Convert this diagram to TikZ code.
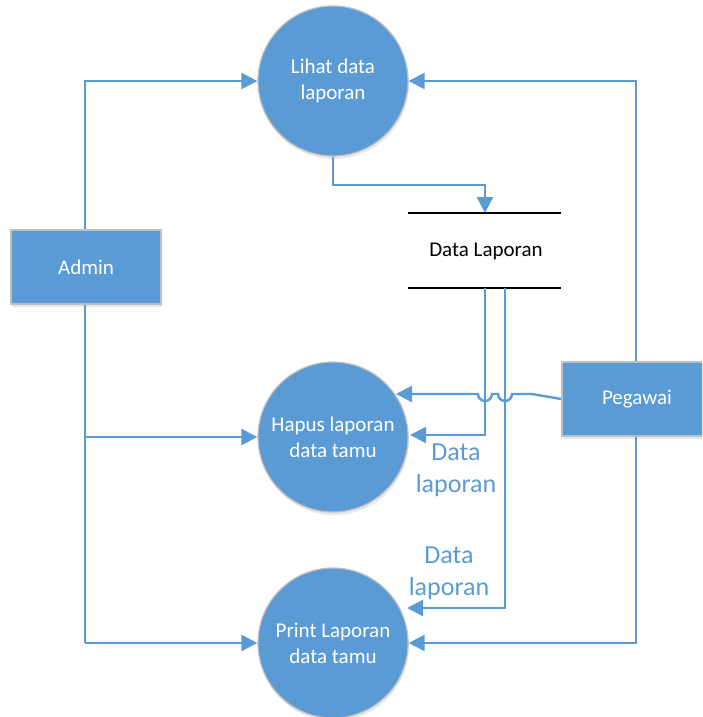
\documentclass[tikz,border=0pt]{standalone}
\usepackage{fontspec}
\setmainfont{Carlito}
\usetikzlibrary{arrows.meta,shadows}
\definecolor{dfdblue}{HTML}{5B9BD5}
\definecolor{dfdborder}{HTML}{BFBFBF}
\tikzset{
  proc/.style={circle,fill=dfdblue,draw=dfdborder,line width=1.2pt,minimum size=150pt,inner sep=0pt,
    text=white,font=\fontsize{21pt}{26pt}\selectfont,align=center,
    drop shadow={opacity=0.18,shadow xshift=1pt,shadow yshift=-3pt}},
  ent/.style={rectangle,fill=dfdblue,draw=dfdborder,line width=1.2pt,minimum width=150pt,minimum height=74pt,inner sep=0pt,
    text=white,font=\fontsize{21pt}{24pt}\selectfont,
    drop shadow={opacity=0.18,shadow xshift=1pt,shadow yshift=-3pt}},
  flow/.style={draw=dfdblue,line width=2.4pt,-{Triangle[length=16pt,width=16pt]}},
  plainflow/.style={draw=dfdblue,line width=2.4pt},
  storeline/.style={draw=black,line width=2pt},
  lbl/.style={text=dfdblue,font=\fontsize{26pt}{32pt}\selectfont,align=center},
}
\begin{document}
\begin{tikzpicture}[x=1pt,y=-1pt]
\useasboundingbox (0,0) rectangle (702,717);
\begin{scope}
\clip (0,0) rectangle (702,717);
% nodes
\node[proc] (lihat) at (333,81) {Lihat data\\laporan};
\node[proc] (hapus) at (333,437) {Hapus laporan\\data tamu};
\node[proc] (print) at (333,643) {Print Laporan\\data tamu};
\node[ent] (admin) at (86,267) {Admin};
\node[ent] (pegawai) at (637,399) {Pegawai};
% data store
\coordinate (stTL) at (408,213);
\coordinate (stTR) at (561,213);
\coordinate (stBL) at (408,288);
\coordinate (stBR) at (561,288);
\draw[storeline] (stTL) -- (stTR);
\draw[storeline] (stBL) -- (stBR);
\node[font=\fontsize{21pt}{24pt}\selectfont] (store) at (486,251) {Data Laporan};
% admin flows
\coordinate (aTop) at (85,81);
\coordinate (aMid) at (85,437);
\coordinate (aBot) at (85,643);
\draw[flow] (admin.north -| aTop) -- (aTop) -- (lihat.west);
\draw[plainflow] (admin.south -| aTop) -- (aBot);
\draw[flow] (aMid) -- (hapus.west);
\draw[flow] (aBot) -- (print.west);
% pegawai flows
\coordinate (pTop) at (636,81);
\coordinate (pBot) at (636,643);
\draw[flow] (pegawai.north -| pTop) -- (pTop) -- (lihat.east);
\draw[flow] (pegawai.south -| pBot) -- (pBot) -- (print.east);
% lihat to store
\coordinate (l1) at (333,185);
\coordinate (l2) at (485,185);
\draw[flow] (lihat.south) -- (l1) -- (l2) -- (485,213);
% store to hapus
\coordinate (s1) at (485,435);
\draw[flow] (485,288) -- (s1) -- (410,435);
% store to print
\coordinate (s2) at (505,608);
\draw[flow] (505,288) -- (s2) -- (407,608);
% pegawai to hapus with line jumps
\coordinate (j0) at (561,399);
\coordinate (j1) at (532,394);
\draw[flow] (j0) -- (j1) -- (512,394) arc[start angle=0,end angle=180,radius=7] -- (492,394)
  arc[start angle=0,end angle=180,radius=7] -- (396,394);
% labels
\node[lbl] (lab1) at (456,470) {Data\\laporan};
\node[lbl] (lab2) at (449,573) {Data\\laporan};
\end{scope}
\end{tikzpicture}
\end{document}
